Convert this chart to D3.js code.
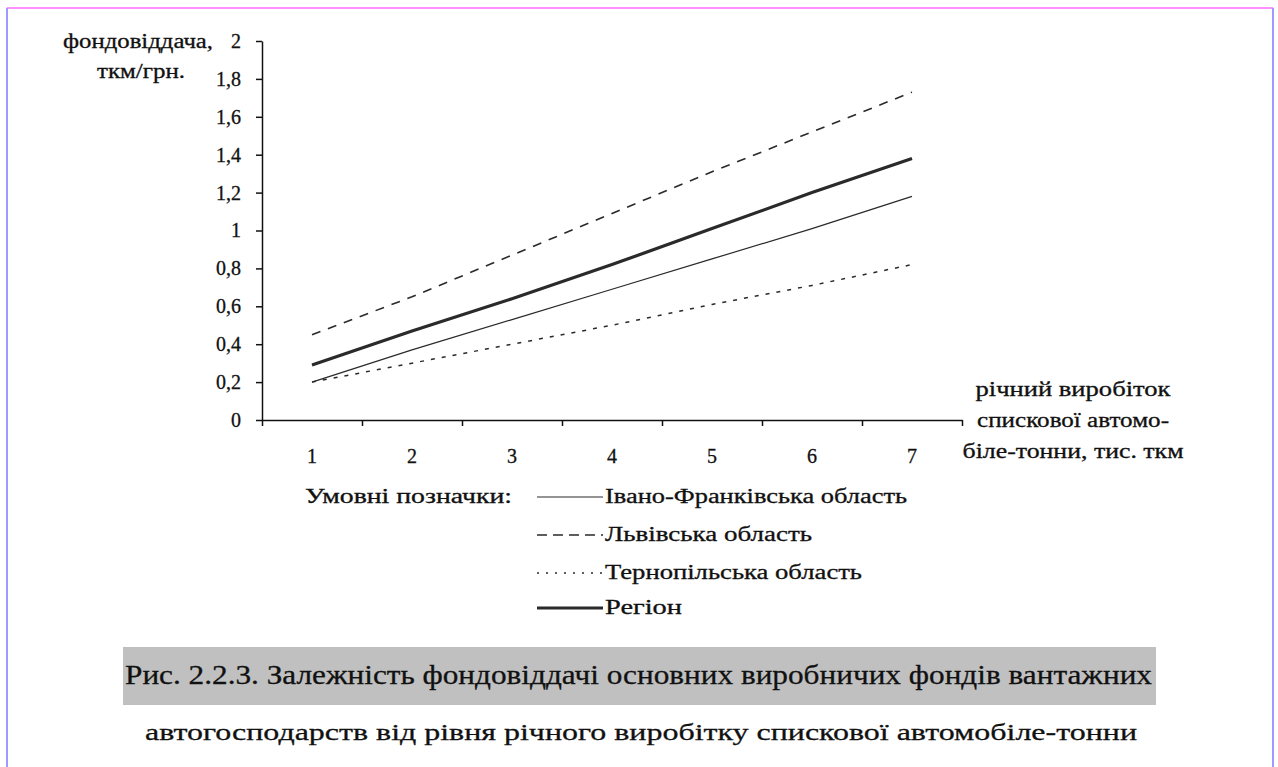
<!DOCTYPE html>
<html>
<head>
<meta charset="utf-8">
<script src="https://cdn.jsdelivr.net/npm/d3@7"></script>
<style>
  html, body { margin: 0; padding: 0; background: #fff; }
  svg { display: block; }
  svg text { font-family: "Liberation Serif", "Times New Roman", "DejaVu Serif", serif !important; fill: #111; stroke: #111; stroke-width: 0.3px; }
</style>
</head>
<body>
<svg id="chart" width="1278" height="767"></svg>
<script>
// ---- data ----
const categories = [1, 2, 3, 4, 5, 6, 7];
const ivanoFrankivsk = [0.20, 0.37, 0.53, 0.69, 0.85, 1.01, 1.18];
const lviv = [0.45, 0.65, 0.87, 1.09, 1.31, 1.52, 1.73];
const ternopil = [0.20, 0.30, 0.40, 0.50, 0.61, 0.71, 0.82];
const region = [0.29, 0.47, 0.64, 0.82, 1.01, 1.20, 1.38];
const yTickValues = [0, 0.2, 0.4, 0.6, 0.8, 1, 1.2, 1.4, 1.6, 1.8, 2];
const seriesNames = ["Івано-Франківська область", "Львівська область", "Тернопільська область", "Регіон"];
const yTitle = ["фондовіддача,", "ткм/грн."];
const xTitle = ["річний виробіток", "спискової автомо-", "біле-тонни, тис. ткм"];
const legendTitle = "Умовні позначки:";
const caption = ["Рис. 2.2.3. Залежність фондовіддачі основних виробничих фондів вантажних",
                 "автогосподарств від рівня річного виробітку спискової автомобіле-тонни"];

const svg = d3.select("#chart");

// frame
svg.append("line").attr("x1", 7).attr("x2", 1273).attr("y1", 8).attr("y2", 8)
  .attr("stroke", "#ff90ff").attr("stroke-width", 2);
svg.append("line").attr("x1", 7).attr("x2", 7).attr("y1", 8).attr("y2", 767)
  .attr("stroke", "#9a9aff").attr("stroke-width", 2);
svg.append("line").attr("x1", 1273).attr("x2", 1273).attr("y1", 8).attr("y2", 767)
  .attr("stroke", "#9a9aff").attr("stroke-width", 2);

// scales
const x = d3.scaleBand().domain(categories).range([262, 962]);
const xEdge = d3.scaleLinear().domain([0, categories.length]).range([262, 962]);
const y = d3.scaleLinear().domain([0, 2]).range([420, 41]);

const fmt = v => String(v).replace(".", ",");

// y axis
const gy = svg.append("g").attr("transform", "translate(262,0)")
  .call(d3.axisLeft(y).tickValues(yTickValues).tickFormat(fmt).tickSize(6).tickSizeOuter(0).tickPadding(15));
gy.attr("font-family", null).attr("font-size", null);
gy.selectAll("text").attr("font-size", 20).attr("fill", "#111");
gy.selectAll("line, path").attr("stroke", "#111").attr("stroke-width", 1.5);

// x axis ticks (edges)
const gx = svg.append("g").attr("transform", "translate(0,420)")
  .call(d3.axisBottom(xEdge).tickValues(d3.range(0, categories.length + 1)).tickFormat("").tickSize(6).tickSizeOuter(0));
gx.selectAll("line, path").attr("stroke", "#111").attr("stroke-width", 1.5);
// x axis labels (band centers)
const gxl = svg.append("g").attr("transform", "translate(0,420)")
  .call(d3.axisBottom(x).tickSize(0).tickPadding(29));
gxl.attr("font-family", null).attr("font-size", null);
gxl.select("path").remove();
gxl.selectAll("text").attr("font-size", 20).attr("fill", "#111");

// lines
const styles = [
  { data: ivanoFrankivsk, width: 1.2, dash: null },
  { data: lviv, width: 1.6, dash: "9,8" },
  { data: ternopil, width: 1.5, dash: "4,7" },
  { data: region, width: 3.2, dash: null }
];
const lineGen = d3.line().x((d, i) => x(categories[i]) + x.bandwidth() / 2).y(d => y(d));
styles.forEach(s => {
  svg.append("path").datum(s.data)
    .attr("d", lineGen)
    .attr("fill", "none")
    .attr("stroke", "#2a2a2a")
    .attr("stroke-width", s.width)
    .attr("stroke-dasharray", s.dash);
});

// y title
svg.append("text").attr("x", 138).attr("y", 48).attr("text-anchor", "middle")
  .attr("font-size", 20).attr("textLength", 150).attr("lengthAdjust", "spacingAndGlyphs").text(yTitle[0]);
svg.append("text").attr("x", 141).attr("y", 78).attr("text-anchor", "middle")
  .attr("font-size", 20).attr("textLength", 88).attr("lengthAdjust", "spacingAndGlyphs").text(yTitle[1]);

// x title
const xTitleW = [195, 192, 221];
const xTitleY = [396, 427, 458];
xTitle.forEach((t, i) => {
  svg.append("text").attr("x", 1073).attr("y", xTitleY[i]).attr("text-anchor", "middle")
    .attr("font-size", 20).attr("textLength", xTitleW[i]).attr("lengthAdjust", "spacingAndGlyphs").text(t);
});

// legend
svg.append("text").attr("x", 305).attr("y", 503).attr("font-size", 20)
  .attr("textLength", 207).attr("lengthAdjust", "spacingAndGlyphs").text(legendTitle);
const legendY = [497, 535, 573, 608];
const legendW = [302, 207, 257, 77];
const legendDash = [null, "10,6", "2,7", null];
seriesNames.forEach((n, i) => {
  svg.append("line").attr("x1", 537).attr("x2", 603).attr("y1", legendY[i]).attr("y2", legendY[i])
    .attr("stroke", "#2a2a2a").attr("stroke-width", styles[i].width)
    .attr("stroke-dasharray", legendDash[i]);
  svg.append("text").attr("x", 605).attr("y", legendY[i] + 6).attr("font-size", 20)
    .attr("textLength", legendW[i]).attr("lengthAdjust", "spacingAndGlyphs").text(n);
});

// caption
svg.append("rect").attr("x", 123).attr("y", 647).attr("width", 1033).attr("height", 58).attr("fill", "#c0c0c0");
svg.append("text").attr("x", 125).attr("y", 684).attr("font-size", 27)
  .attr("textLength", 1027).attr("lengthAdjust", "spacingAndGlyphs").text(caption[0]);
svg.append("text").attr("x", 145).attr("y", 740).attr("font-size", 24)
  .attr("textLength", 992).attr("lengthAdjust", "spacingAndGlyphs").text(caption[1]);
</script>
</body>
</html>
